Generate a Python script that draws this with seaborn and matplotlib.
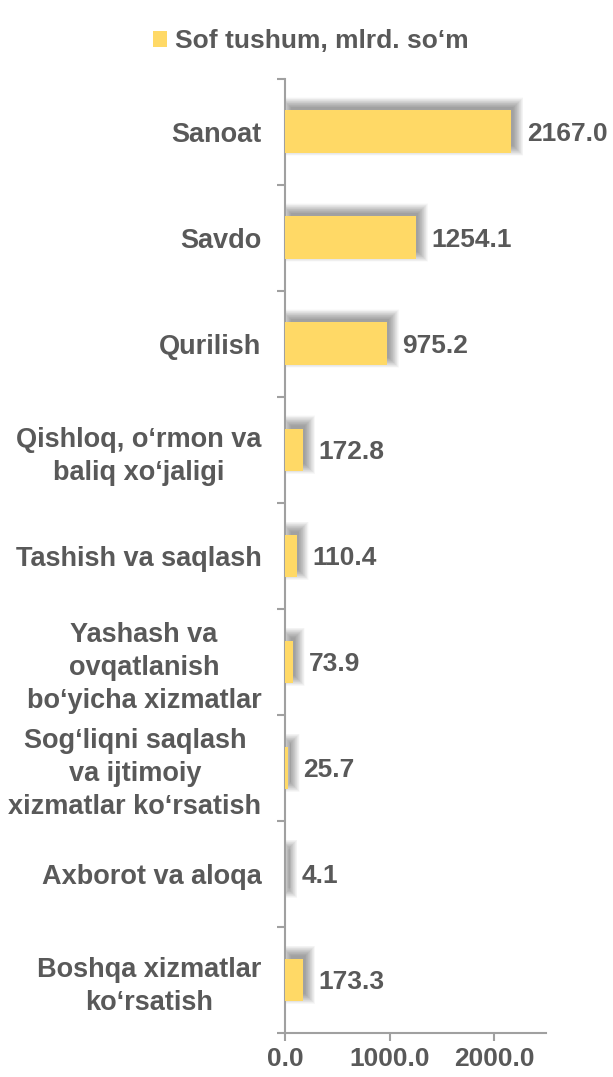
import matplotlib
matplotlib.use("Agg")
import matplotlib.pyplot as plt
import numpy as np
import seaborn as sns
from matplotlib.patches import Patch
from matplotlib.ticker import FixedLocator, MultipleLocator, FormatStrFormatter

tarmoqlar = [
    "Sanoat",
    "Savdo",
    "Qurilish",
    "Qishloq, o‘rmon va\nbaliq xo‘jaligi",
    "Tashish va saqlash",
    "Yashash va\novqatlanish\nbo‘yicha xizmatlar",
    "Sog‘liqni saqlash\nva ijtimoiy\nxizmatlar ko‘rsatish",
    "Axborot va aloqa",
    "Boshqa xizmatlar\nko‘rsatish",
]
tushum = [2167.0, 1254.1, 975.2, 172.8, 110.4, 73.9, 25.7, 4.1, 173.3]
legend_nomi = "Sof tushum, mlrd. so‘m"

sariq = "#FFD966"
matn = "#595959"
chiziq = "#A0A0A0"

sns.set_style("white")
plt.rcParams["font.family"] = ["Liberation Sans", "DejaVu Sans"]
plt.rcParams["font.weight"] = "bold"

fig = plt.figure(figsize=(6.13, 10.77), dpi=100)
ax = fig.add_axes([0.465, 0.041, 0.426, 0.886])

# soya (shadow): yuqoriga-o'ngga siljigan, xiralashgan qatlamlar
pos = np.arange(len(tushum))
vals = np.array(tushum)
px_x = 2500 / 261.0      # 1 piksel x birligida
px_y = 1.0 / 106.0       # 1 piksel y birligida
for e in np.linspace(-2, 8, 26):
    ax.barh(pos - 5 * px_y, vals + 2 * e * px_x, left=4 * px_x - e * px_x,
            height=0.4 + 2 * e * px_y, color="black", alpha=0.014,
            zorder=1, linewidth=0)

sns.barplot(x=tushum, y=tarmoqlar, orient="h", color=sariq, width=0.4,
            saturation=1, ax=ax, zorder=3, linewidth=0, edgecolor="none")

for i, v in enumerate(tushum):
    ax.text(v + 150, i + 0.02, f"{v:.1f}", va="center", ha="left",
            fontsize=19, fontweight="bold", color=matn)

ax.set_xlim(0, 2500)
ax.set_ylim(len(tushum) - 0.5, -0.5)
ax.xaxis.set_major_locator(MultipleLocator(1000))
ax.xaxis.set_major_formatter(FormatStrFormatter("%.1f"))
ax.yaxis.set_minor_locator(FixedLocator(np.arange(-0.5, len(tushum), 1.0)))

for s in ["top", "right"]:
    ax.spines[s].set_visible(False)
for s in ["left", "bottom"]:
    ax.spines[s].set_color(chiziq)
    ax.spines[s].set_linewidth(1.5)

ax.tick_params(axis="y", which="major", length=0, pad=17, labelsize=19.5,
               labelcolor=matn)
ax.tick_params(axis="y", which="minor", length=6, width=1.5, color=chiziq,
               direction="out", left=True)
ax.tick_params(axis="x", which="major", length=6, width=1.5, color=chiziq,
               direction="out", bottom=True, labelsize=19, labelcolor=matn, pad=4)
for lab in ax.get_yticklabels():
    lab.set_multialignment("center")
    lab.set_fontweight("bold")
    lab.set_linespacing(1.35)
for lab in ax.get_xticklabels():
    lab.set_fontweight("bold")
ax.set_xlabel("")
ax.set_ylabel("")

fig.legend(handles=[Patch(facecolor=sariq, edgecolor="none", label=legend_nomi)],
           loc="upper center", bbox_to_anchor=(0.507, 0.995), frameon=False,
           handlelength=0.55, handleheight=0.55, handletextpad=0.3,
           labelcolor=matn, prop={"weight": "bold", "size": 19})

fig.savefig("out.png", dpi=100)
